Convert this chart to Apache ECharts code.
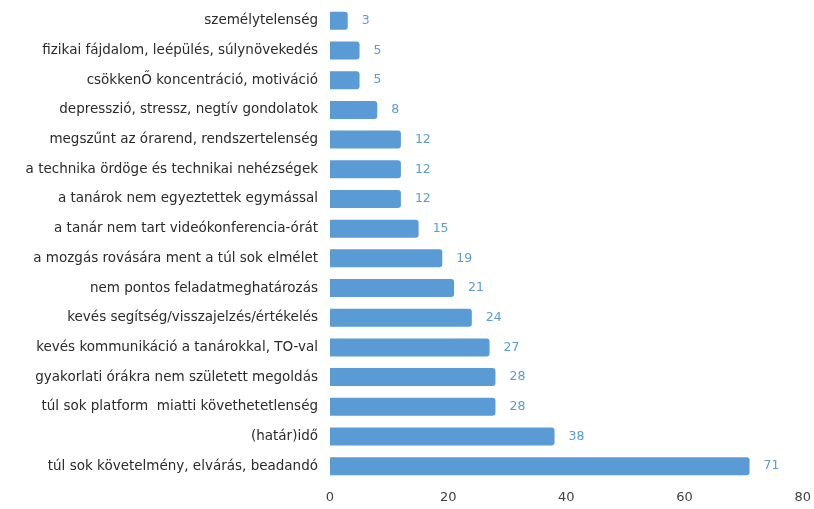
<!DOCTYPE html>
<html><head><meta charset="utf-8">
<script src="https://cdn.jsdelivr.net/npm/echarts@6/dist/echarts.min.js"></script>
<style>html,body{margin:0;padding:0;background:#fff}#c{width:814px;height:509px}</style>
</head><body><div id="c"></div>
<script>
const categories = [
  "személytelenség",
  "fizikai fájdalom, leépülés, súlynövekedés",
  "csökkenŐ koncentráció, motiváció",
  "depresszió, stressz, negtív gondolatok",
  "megszűnt az órarend, rendszertelenség",
  "a technika ördöge és technikai nehézségek",
  "a tanárok nem egyeztettek egymással",
  "a tanár nem tart videókonferencia-órát",
  "a mozgás rovására ment a túl sok elmélet",
  "nem pontos feladatmeghatározás",
  "kevés segítség/visszajelzés/értékelés",
  "kevés kommunikáció a tanárokkal, TO-val",
  "gyakorlati órákra nem született megoldás",
  "túl sok platform  miatti követhetetlenség",
  "(határ)idő",
  "túl sok követelmény, elvárás, beadandó"
];
const values = [3, 5, 5, 8, 12, 12, 12, 15, 19, 21, 24, 27, 28, 28, 38, 71];
const xTicks = { min: 0, max: 80, interval: 20 };

const chart = echarts.init(document.getElementById('c'));
chart.setOption({
  animation: false,
  grid: { left: 330, right: 9, top: 6, bottom: 28, containLabel: false },
  xAxis: {
    type: 'value', min: xTicks.min, max: xTicks.max, interval: xTicks.interval,
    splitLine: { show: false }, axisLine: { show: false }, axisTick: { show: false },
    axisLabel: { color: '#404040', fontSize: 13, fontFamily: 'DejaVu Sans', margin: 10 }
  },
  yAxis: {
    type: 'category', data: categories, inverse: true,
    axisLine: { show: false }, axisTick: { show: false },
    axisLabel: { color: '#2a2a2a', fontSize: 13.5, fontFamily: 'DejaVu Sans', margin: 12 }
  },
  series: [{
    type: 'bar', data: values, barWidth: 18,
    itemStyle: { color: '#5B9BD5', borderRadius: [0, 3, 3, 0] },
    label: { show: true, position: 'right', distance: 14, color: '#5B9BD5', fontSize: 12.5, fontFamily: 'DejaVu Sans' }
  }]
});
</script></body></html>
